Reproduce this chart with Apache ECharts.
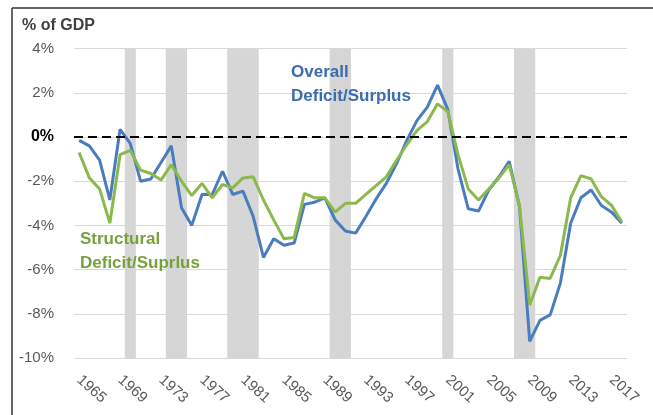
<!DOCTYPE html>
<html>
<head>
<meta charset="utf-8">
<script src="https://cdn.jsdelivr.net/npm/echarts@6/dist/echarts.min.js"></script>
<style>
html,body{margin:0;padding:0;background:#fff;}
#chart{width:653px;height:415px;}
</style>
</head>
<body>
<div id="chart"></div>
<script>
const years = [];
for (let y = 1965; y <= 2018; y++) years.push(String(y));

const overall = [
  -0.15, -0.4, -1.05, -2.85, 0.35, -0.3, -2.0, -1.9, -1.15, -0.4,
  -3.2, -4.0, -2.6, -2.6, -1.55, -2.6, -2.45, -3.6, -5.45, -4.6,
  -4.9, -4.8, -3.05, -2.95, -2.75, -3.75, -4.25, -4.35, -3.6, -2.8,
  -2.1, -1.2, -0.15, 0.75, 1.35, 2.35, 1.25, -1.45, -3.25, -3.35,
  -2.4, -1.8, -1.1, -3.15, -9.25, -8.3, -8.05, -6.6, -3.9, -2.75,
  -2.4, -3.1, -3.4, -3.9
];
const structural = [
  -0.7, -1.85, -2.35, -3.9, -0.8, -0.6, -1.5, -1.65, -1.95, -1.25,
  -2.0, -2.65, -2.1, -2.75, -2.15, -2.3, -1.85, -1.8, -2.85, -3.75,
  -4.6, -4.55, -2.55, -2.75, -2.75, -3.4, -3.0, -3.0, -2.6, -2.2,
  -1.8, -1.05, -0.35, 0.3, 0.7, 1.5, 1.15, -0.8, -2.35, -2.85,
  -2.35, -1.85, -1.25, -3.1, -7.6, -6.35, -6.4, -5.35, -2.75, -1.75,
  -1.9, -2.7, -3.1, -3.85
];
const recessionYears = ['1970','1974','1975','1980','1981','1982','1990','1991','2001','2008','2009'];
const yMin = -10, yMax = 4, yStep = 2;

const recTop = years.map(y => recessionYears.includes(y) ? yMax : '-');
const recBottom = years.map(y => recessionYears.includes(y) ? yMin : '-');

const chart = echarts.init(document.getElementById('chart'), null, {renderer: 'canvas'});
const FONT = '"Liberation Sans", Arial, sans-serif';
const REC = '#d6d6d6';
chart.setOption({
  animation: false,
  backgroundColor: '#fff',
  grid: {left: 74, right: 26, top: 48.6, bottom: 57, containLabel: false},
  xAxis: {
    type: 'category',
    data: years,
    boundaryGap: true,
    axisLine: {show: false},
    axisTick: {show: false},
    splitLine: {show: false},
    axisLabel: {
      interval: 3,
      rotate: -42,
      margin: 20,
      color: '#595959',
      fontSize: 15,
      fontFamily: FONT
    }
  },
  yAxis: {
    type: 'value',
    min: yMin,
    max: yMax,
    interval: yStep,
    axisLine: {show: false},
    axisTick: {show: false},
    splitLine: {lineStyle: {color: '#d9d9d9', width: 1}},
    axisLabel: {
      margin: 20,
      fontSize: 15,
      fontFamily: FONT,
      color: '#595959',
      formatter: v => v === 0 ? '{z|0%}' : v + '%',
      rich: {z: {fontSize: 16, fontWeight: 'bold', color: '#000', fontFamily: FONT}}
    }
  },
  series: [
    {
      type: 'bar', stack: 'rec', data: recTop, barWidth: '108%',
      itemStyle: {color: REC}, silent: true, z: 1
    },
    {
      type: 'bar', stack: 'rec', data: recBottom, barWidth: '108%',
      itemStyle: {color: REC}, silent: true, z: 1
    },
    {
      type: 'line', name: 'Overall', data: overall, symbol: 'none',
      lineStyle: {color: '#4a7dbf', width: 3}, z: 3,
      markLine: {
        silent: true, symbol: 'none', label: {show: false},
        lineStyle: {color: '#000', type: [9, 5], width: 2},
        data: [{yAxis: 0}]
      }
    },
    {
      type: 'line', name: 'Structural', data: structural, symbol: 'none',
      lineStyle: {color: '#8cb94d', width: 3}, z: 4
    }
  ],
  graphic: [
    {type: 'line', z: 100, shape: {x1: 12, y1: 8, x2: 12, y2: 415}, style: {stroke: '#333', lineWidth: 1.5}},
    {type: 'line', z: 100, shape: {x1: 12, y1: 8, x2: 653, y2: 8}, style: {stroke: '#333', lineWidth: 1.5}},
    {type: 'text', z: 100, left: 22, top: 18, style: {text: '% of GDP', fontSize: 16, fontWeight: 'bold', fill: '#404040', fontFamily: FONT}},
    {type: 'text', z: 100, left: 291, top: 60, style: {text: 'Overall\nDeficit/Surplus', fontSize: 17, lineHeight: 24, fontWeight: 'bold', fill: '#3b6cad', fontFamily: FONT}},
    {type: 'text', z: 100, left: 80, top: 227, style: {text: 'Structural\nDeficit/Suprlus', fontSize: 17, lineHeight: 24, fontWeight: 'bold', fill: '#78a03c', fontFamily: FONT}}
  ]
});
</script>
</body>
</html>
